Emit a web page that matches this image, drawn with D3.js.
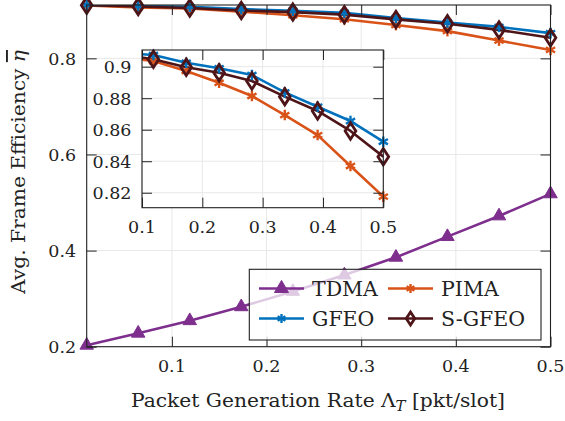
<!DOCTYPE html>
<html><head><meta charset="utf-8">
<script src="https://cdn.jsdelivr.net/npm/d3@7"></script>
<style>
html,body{margin:0;padding:0;background:#fff;}
svg text{font-family:"DejaVu Serif",serif;fill:#222;}
</style></head>
<body><svg id="c" width="565" height="421"></svg>
<script>
// ---- data ----
const rates = [0.01, 0.0644, 0.1189, 0.1733, 0.2278, 0.2822, 0.3367, 0.3911, 0.4456, 0.5];
const tdma  = [0.203, 0.228, 0.254, 0.283, 0.315, 0.349, 0.386, 0.429, 0.472, 0.518];
const pima  = [0.910, 0.906, 0.9036, 0.8973, 0.8898, 0.8814, 0.8693, 0.8566, 0.837, 0.8175];
const gfeo  = [0.911, 0.9088, 0.9074, 0.9025, 0.899, 0.8947, 0.8837, 0.8746, 0.8655, 0.8524];
const sgfeo = [0.9105, 0.908, 0.9047, 0.8996, 0.8962, 0.8909, 0.881, 0.8719, 0.8592, 0.8429];
const seriesNames = ["TDMA", "PIMA", "GFEO", "S-GFEO"];
const xTicks = [0.1, 0.2, 0.3, 0.4, 0.5];
const yTicks = [0.2, 0.4, 0.6, 0.8];
const insetXTicks = [0.1, 0.2, 0.3, 0.4, 0.5];
const insetYTicks = [0.82, 0.84, 0.86, 0.88, 0.9];

const colors = {TDMA:"#7E2F8E", PIMA:"#D95319", GFEO:"#0072BD", "S-GFEO":"#4E1519"};
const markers = {TDMA:"tri", PIMA:"ast", GFEO:"ast", "S-GFEO":"dia"};
const values = {TDMA:tdma, PIMA:pima, GFEO:gfeo, "S-GFEO":sgfeo};

const svg = d3.select("#c");
const fmt = d3.format(".1f");

function drawMarker(g, type, color, x, y, s) {
  if (type === "tri") {
    g.append("path").attr("d", d3.symbol(d3.symbolTriangle, 2.8 * s * s)()).attr("transform", `translate(${x},${y})`)
      .attr("fill", color).attr("stroke", color).attr("stroke-width", 1);
  } else if (type === "ast") {
    const r = s;
    const a = g.append("g").attr("transform", `translate(${x},${y})`);
    [90, 30, -30].forEach(ang => {
      const t = ang * Math.PI / 180;
      a.append("line").attr("x1", -r*Math.cos(t)).attr("y1", -r*Math.sin(t))
        .attr("x2", r*Math.cos(t)).attr("y2", r*Math.sin(t))
        .attr("stroke", color).attr("stroke-width", 2.4);
    });
  } else if (type === "dia") {
    const r = s + 1;
    g.append("path").attr("d", `M0,${-r*1.3}L${r*0.85},0L0,${r*1.3}L${-r*0.85},0Z`)
      .attr("transform", `translate(${x},${y})`)
      .attr("fill", "none").attr("stroke", color).attr("stroke-width", 2.8);
  }
}

function drawPanel(opts) {
  const {x0, x1, y0, y1, xd, yd, xt, yt, xfmt, yfmt, id, fs, xLabDy, yLabDx} = opts;
  const x = d3.scaleLinear().domain(xd).range([x0, x1]);
  const y = d3.scaleLinear().domain(yd).range([y1, y0]);
  const g = svg.append("g");
  g.append("rect").attr("x", x0).attr("y", y0).attr("width", x1-x0).attr("height", y1-y0).attr("fill", "#fff");
  // grid
  g.append("g").selectAll("line").data(xt).join("line")
    .attr("x1", d => x(d)).attr("x2", d => x(d)).attr("y1", y0).attr("y2", y1)
    .attr("stroke", "#e8e8e8").attr("stroke-width", 1);
  g.append("g").selectAll("line").data(yt).join("line")
    .attr("y1", d => y(d)).attr("y2", d => y(d)).attr("x1", x0).attr("x2", x1)
    .attr("stroke", "#e8e8e8").attr("stroke-width", 1);
  // clip
  svg.append("clipPath").attr("id", id).append("rect").attr("x", x0).attr("y", y0).attr("width", x1-x0).attr("height", y1-y0);
  svg.append("clipPath").attr("id", id + "m").append("rect").attr("x", x0-8).attr("y", y0-8).attr("width", x1-x0+16).attr("height", y1-y0+16);
  const plot = g.append("g").attr("clip-path", `url(#${id})`);
  const mk = g.append("g").attr("clip-path", `url(#${id}m)`);
  const line = d3.line().x(d => x(d[0])).y(d => y(d[1]));
  seriesNames.forEach(n => {
    const pts = rates.map((r, i) => [r, values[n][i]]);
    plot.append("path").datum(pts).attr("d", line).attr("fill", "none")
      .attr("stroke", colors[n]).attr("stroke-width", 2.6).attr("stroke-linejoin", "round");
    pts.filter(p => p[0] >= xd[0] - 1e-9 && p[0] <= xd[1] + 1e-9 && p[1] >= yd[0] - 0.002 && p[1] <= yd[1] + 0.002)
      .forEach(p => drawMarker(mk, markers[n], colors[n], x(p[0]), y(p[1]), 5.3));
  });
  // axes with inward ticks on all sides
  const tl = 10;
  g.append("g").attr("transform", `translate(0,${y1})`)
    .call(d3.axisBottom(x).tickValues(xt).tickSize(-tl).tickFormat("")).call(a => a.select(".domain").remove());
  g.append("g").attr("transform", `translate(0,${y0})`)
    .call(d3.axisTop(x).tickValues(xt).tickSize(-tl).tickFormat("")).call(a => a.select(".domain").remove());
  g.append("g").attr("transform", `translate(${x0},0)`)
    .call(d3.axisLeft(y).tickValues(yt).tickSize(-tl).tickFormat("")).call(a => a.select(".domain").remove());
  g.append("g").attr("transform", `translate(${x1},0)`)
    .call(d3.axisRight(y).tickValues(yt).tickSize(-tl).tickFormat("")).call(a => a.select(".domain").remove());
  g.selectAll(".tick line").attr("stroke", "#222").attr("stroke-width", 1);
  g.append("rect").attr("x", x0).attr("y", y0).attr("width", x1-x0).attr("height", y1-y0)
    .attr("fill", "none").attr("stroke", "#222").attr("stroke-width", 1.1);
  // labels
  g.append("g").selectAll("text").data(xt).join("text")
    .attr("x", d => x(d)).attr("y", y1 + xLabDy).attr("text-anchor", "middle")
    .attr("font-size", fs).text(xfmt);
  g.append("g").selectAll("text").data(yt).join("text")
    .attr("x", x0 - yLabDx).attr("y", d => y(d)).attr("dy", "0.36em").attr("text-anchor", "end")
    .attr("font-size", fs).text(yfmt);
  return {x, y};
}

// main panel
drawPanel({x0: 86.7, x1: 550.5, y0: 5, y1: 346.7, xd: [0.01, 0.5], yd: [0.2, 0.911],
  xt: xTicks, yt: yTicks, xfmt: fmt, yfmt: fmt, id: "clipMain", fs: 17.5, xLabDy: 25.5, yLabDx: 10.5});
// inset panel
drawPanel({x0: 142, x1: 383.3, y0: 50, y1: 207.7, xd: [0.1, 0.5], yd: [0.8105, 0.9106],
  xt: insetXTicks, yt: insetYTicks, xfmt: fmt, yfmt: d3.format(".2~f"), id: "clipInset", fs: 17.5, xLabDy: 25.5, yLabDx: 10.5});

// axis titles
const xt = svg.append("text").attr("x", 318).attr("y", 407).attr("text-anchor", "middle").attr("font-size", 19)
  .attr("textLength", 374).attr("lengthAdjust", "spacingAndGlyphs");
xt.append("tspan").text("Packet Generation Rate Λ");
xt.append("tspan").attr("font-style", "italic").attr("font-size", 14).attr("dy", 4).text("T");
xt.append("tspan").attr("dy", -4).text(" [pkt/slot]");

const yt = svg.append("text").attr("transform", "translate(25,172) rotate(-90)").attr("text-anchor", "middle").attr("font-size", 19)
  .attr("textLength", 244).attr("lengthAdjust", "spacingAndGlyphs");
yt.append("tspan").text("Avg. Frame Efficiency ");
yt.append("tspan").attr("font-style", "italic").attr("text-decoration", "overline").text("η");

// legend
const lg = svg.append("g");
lg.append("rect").attr("x", 249.3).attr("y", 269.3).attr("width", 291.7).attr("height", 70.7)
  .attr("fill", "#fff").attr("fill-opacity", 0.75).attr("stroke", "#222").attr("stroke-width", 1.1);
const legPos = [[259, 288.5], [388, 288.5], [259, 318.5], [388, 318.5]];
seriesNames.forEach((n, i) => {
  const [lx, ly] = legPos[i];
  lg.append("line").attr("x1", lx).attr("x2", lx + 45).attr("y1", ly).attr("y2", ly)
    .attr("stroke", colors[n]).attr("stroke-width", 2.6);
  drawMarker(lg, markers[n], colors[n], lx + 22.5, ly, markers[n] === "ast" ? 4.5 : (markers[n] === "tri" ? 5.5 : 4));
  lg.append("text").attr("x", lx + 53).attr("y", ly).attr("dy", "0.36em").attr("font-size", 20.5).text(n);
});
</script></body></html>
